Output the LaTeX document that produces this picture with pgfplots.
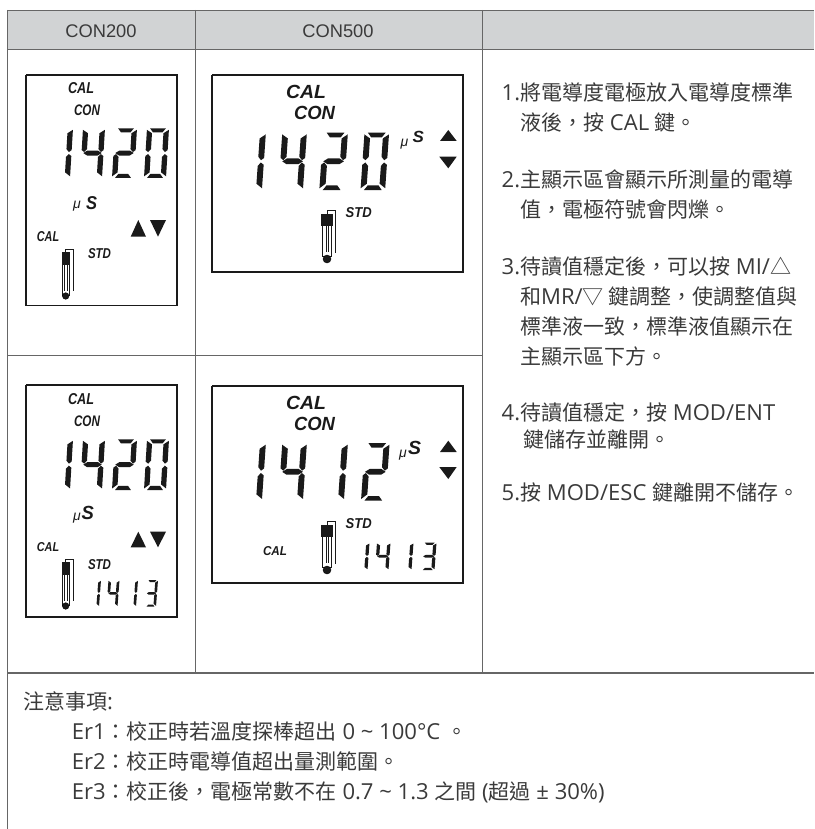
\documentclass[border=0pt]{standalone}
\usepackage{fontspec}
\usepackage{pgfplots}
\usepackage{pgfplotstable}
\pgfplotsset{compat=1.18}
\setmainfont[Script=CJK,Language=Chinese Traditional]{Noto Sans CJK TC}
\newfontfamily\arial{Liberation Sans}
\newfontfamily\ofont[Scale=1.05]{Open Sans}
\newcommand\lt[1]{{\ofont #1}}
\definecolor{ln}{HTML}{666666}
\definecolor{hd}{HTML}{D1D3D4}
\definecolor{tx}{HTML}{3A3A3A}
\definecolor{lcd}{HTML}{1A1A1A}
\pgfplotstableread{
x y
14 0
86 0
72 16
28 16
}\sA
\pgfplotstableread{
x y
100 6
100 88
88 96
76 84
76 20
}\sB
\pgfplotstableread{
x y
100 112
100 194
76 178
76 116
88 104
}\sC
\pgfplotstableread{
x y
28 184
72 184
86 200
14 200
}\sD
\pgfplotstableread{
x y
0 112
12 104
24 116
24 178
0 194
}\sE
\pgfplotstableread{
x y
0 6
24 20
24 84
12 96
0 88
}\sF
\pgfplotstableread{
x y
8 100
26 90
74 90
92 100
74 110
26 110
}\sG
% electrode parts
\pgfplotstableread{
x y
65.7 252
65.7 249.3
73 249.3
73 291
}\nWire
\pgfplotstableread{
x y
61.5 252
69.7 252
69.7 265
61.5 265
}\nCap
\pgfplotstableread{
x y
62.5 265
62.5 295
69 295
69 265
}\nTube
\pgfplotstableread{
x y
64.7 265
64.7 291
}\nInA
\pgfplotstableread{
x y
66.9 265
66.9 291
}\nInB
\pgfplotstableread{
x y
65.7 296
}\nBulb
\pgfplotstableread{
x y
327 214
327 210.7
335.3 210.7
335.3 253.3
}\wWire
\pgfplotstableread{
x y
321 214
332.7 214
332.7 225.7
321 225.7
}\wCap
\pgfplotstableread{
x y
322.8 225.7
322.8 256.7
331 256.7
331 225.7
}\wTube
\pgfplotstableread{
x y
326 225.7
326 252
}\wInA
\pgfplotstableread{
x y
328 225.7
328 252
}\wInB
\pgfplotstableread{
x y
327 259
}\wBulb
\newcommand\seg[1]{\addplot[fill=lcd,draw=none,mark=none,forget plot] table[x expr={\dx+\dw*\thisrow{x}/100+\ds*(1-\thisrow{y}/200)}, y expr={\dy+\dh*\thisrow{y}/200}] {#1};}
% digit value, left, top, unslanted width, height, slant
\newcommand\dig[6]{\def\dx{#2}\def\dy{#3}\def\dw{#4}\def\dh{#5}\def\ds{#6}%
\ifcase#1\relax
 \seg\sA\seg\sB\seg\sC\seg\sD\seg\sE\seg\sF
\or \seg\sB\seg\sC
\or \seg\sA\seg\sB\seg\sG\seg\sE\seg\sD
\or \seg\sA\seg\sB\seg\sG\seg\sC\seg\sD
\or \seg\sF\seg\sG\seg\sB\seg\sC
\fi}
% resized label: centre x, centre y, width, height, text
\newcommand\lab[5]{\node[text=lcd,inner sep=0pt,anchor=center] at (axis cs:#1,#2) {\resizebox{#3pt}{#4pt}{\arial\bfseries\itshape #5}};}
\newcommand\muu[2]{\node[text=lcd,inner sep=0pt,anchor=center] at (axis cs:#1,#2) {\fontsize{14}{14}\selectfont\arial\itshape μ};}
\newcommand\body[3]{\node[text=tx,inner sep=0pt,anchor=base west] at (axis cs:#1,#2) {\fontsize{21}{24}\selectfont #3};}
\newcommand\tri[1]{\addplot[fill=lcd,draw=none,forget plot] coordinates {#1};}
\newcommand\elecN[1]{%
\addplot[lcd,line width=.8pt,forget plot] table[y expr=\thisrow{y}+#1] {\nWire};
\addplot[fill=lcd,draw=none,forget plot] table[y expr=\thisrow{y}+#1] {\nCap};
\addplot[lcd,line width=1pt,forget plot] table[y expr=\thisrow{y}+#1] {\nTube};
\addplot[lcd,line width=.5pt,forget plot] table[y expr=\thisrow{y}+#1] {\nInA};
\addplot[lcd,line width=.5pt,forget plot] table[y expr=\thisrow{y}+#1] {\nInB};
\addplot[only marks,mark=*,mark size=3.3pt,mark options={fill=lcd,draw=none},forget plot] table[y expr=\thisrow{y}+#1] {\nBulb};}
\newcommand\elecW[1]{%
\addplot[lcd,line width=.8pt,forget plot] table[y expr=\thisrow{y}+#1] {\wWire};
\addplot[fill=lcd,draw=none,forget plot] table[y expr=\thisrow{y}+#1] {\wCap};
\addplot[lcd,line width=1pt,forget plot] table[y expr=\thisrow{y}+#1] {\wTube};
\addplot[lcd,line width=.5pt,forget plot] table[y expr=\thisrow{y}+#1] {\wInA};
\addplot[lcd,line width=.5pt,forget plot] table[y expr=\thisrow{y}+#1] {\wInB};
\addplot[only marks,mark=*,mark size=4pt,mark options={fill=lcd,draw=none},forget plot] table[y expr=\thisrow{y}+#1] {\wBulb};}
\begin{document}
\begin{tikzpicture}[x=1pt,y=1pt]
\useasboundingbox (0,0) rectangle (814pt,829pt);
\begin{axis}[at={(0,0)},anchor=south west,scale only axis,width=814pt,height=829pt,
  xmin=0,xmax=814,ymin=0,ymax=829,y dir=reverse,hide axis,clip=true]
% header band
\addplot[fill=hd,draw=none,forget plot] coordinates {(7,10)(814,10)(814,49)(7,49)};
% table rules
\addplot[ln,line width=1.3pt,forget plot] coordinates {(7,10.5)(814,10.5)};
\addplot[ln,line width=1.3pt,forget plot] coordinates {(7,49.5)(814,49.5)};
\addplot[ln,line width=1.3pt,forget plot] coordinates {(7,355.5)(482.5,355.5)};
\addplot[ln,line width=1.3pt,forget plot] coordinates {(7,673)(814,673)};
\addplot[ln,line width=1.3pt,forget plot] coordinates {(7.5,10)(7.5,829)};
\addplot[ln,line width=1.3pt,forget plot] coordinates {(195.5,10)(195.5,673)};
\addplot[ln,line width=1.3pt,forget plot] coordinates {(482.5,10)(482.5,673)};
\node[text=tx,inner sep=0pt] at (axis cs:101,31) {\fontsize{18.3}{18}\selectfont\arial CON200};
\node[text=tx,inner sep=0pt] at (axis cs:338,31) {\fontsize{18.3}{18}\selectfont\arial CON500};
% LCD frames
\addplot[lcd,line width=1.6pt,forget plot] coordinates {(26,75)(177,75)(177,305.5)(26,305.5)(26,75)};
\addplot[lcd,line width=1.6pt,forget plot] coordinates {(212,75)(463,75)(463,272)(212,272)(212,75)};
\addplot[lcd,line width=1.6pt,forget plot] coordinates {(26,385)(177,385)(177,617)(26,617)(26,385)};
\addplot[lcd,line width=1.6pt,forget plot] coordinates {(212,386)(463,386)(463,583)(212,583)(212,386)};
% Box 1
\lab{81}{88.5}{26}{11}{CAL}
\lab{87}{110.3}{26}{10.7}{CON}
\dig{1}{48}{128.3}{22}{49.5}{3}
\dig{4}{80}{128.3}{22}{49.5}{3}
\dig{2}{112}{128.3}{22}{49.5}{3}
\dig{0}{144}{128.3}{22}{49.5}{3}
\muu{77}{206}
\lab{91.5}{203.5}{11}{13}{S}
\tri{(130.7,236.7)(146,236.7)(138.3,220)}
\tri{(150,220)(166,220)(158,236.7)}
\lab{48}{236.7}{22.3}{10}{CAL}
\lab{99.5}{254}{23}{10}{STD}
\elecN{0}
% Box 2
\lab{306}{91.7}{40}{13.3}{CAL}
\lab{314.5}{112.7}{41}{13.3}{CON}
\dig{1}{237.3}{132.7}{24.6}{57.3}{4}
\dig{4}{278.3}{132.7}{24.6}{57.3}{4}
\dig{2}{319.3}{132.7}{24.6}{57.3}{4}
\dig{0}{360.5}{132.7}{24.6}{57.3}{4}
\muu{404.5}{144}
\lab{418.3}{136.5}{11.3}{11.3}{S}
\tri{(440,141)(456.7,141)(448.3,130)}
\tri{(439.3,156.7)(456.7,156.7)(448.3,168.3)}
\lab{358.7}{213}{26}{10}{STD}
\elecW{0}
% Box 3
\lab{81}{399.5}{26}{11}{CAL}
\lab{87}{421.5}{26}{10.7}{CON}
\dig{1}{48}{439.3}{22}{50.7}{3}
\dig{4}{80}{439.3}{22}{50.7}{3}
\dig{2}{112}{439.3}{22}{50.7}{3}
\dig{0}{144}{439.3}{22}{50.7}{3}
\muu{77}{518}
\lab{87.8}{513.3}{12.3}{13.3}{S}
\tri{(130.7,547.3)(146,547.3)(138.3,531.7)}
\tri{(150,531.7)(166,531.7)(158,547.3)}
\lab{48}{547}{22.3}{9}{CAL}
\lab{99.5}{565}{23}{10}{STD}
\elecN{310}
\dig{1}{88}{580}{11}{26.7}{2}
\dig{4}{106.5}{580}{11}{26.7}{2}
\dig{1}{125}{580}{11}{26.7}{2}
\dig{3}{145}{580}{11}{26.7}{2}
% Box 4
\lab{306}{402.5}{40}{13.3}{CAL}
\lab{314.5}{423.5}{41}{13.3}{CON}
\dig{1}{237.3}{443}{24.6}{57.7}{4}
\dig{4}{278.3}{443}{24.6}{57.7}{4}
\dig{1}{319.3}{443}{24.6}{57.7}{4}
\dig{2}{361}{443}{24.6}{57.7}{4}
\muu{403}{455}
\lab{414.5}{448.3}{13}{13.3}{S}
\tri{(440,452)(456.7,452)(448.3,440.7)}
\tri{(439.3,467)(456.7,467)(448.3,479)}
\lab{358.7}{524}{26}{10}{STD}
\lab{275}{551.2}{24}{9}{CAL}
\elecW{311}
\dig{1}{354}{542.7}{13.5}{27.3}{2}
\dig{4}{375}{542.7}{13.5}{27.3}{2}
\dig{1}{398}{542.7}{13.5}{27.3}{2}
\dig{3}{421}{542.7}{13.5}{27.3}{2}
% Instructions
\body{501.5}{100.5}{\lt{1.}將電導度電極放入電導度標準}
\body{520}{130.5}{液後，按\lt{ CAL }鍵。}
\body{501.5}{187}{\lt{2.}主顯示區會顯示所測量的電導}
\body{520}{217}{值，電極符號會閃爍。}
\body{501.5}{274}{\lt{3.}待讀值穩定後，可以按\lt{ MI/}△}
\body{520}{304}{和\lt{MR/}▽ 鍵調整，使調整值與}
\body{520}{334}{標準液一致，標準液值顯示在}
\body{520}{364}{主顯示區下方。}
\body{501.5}{420}{\lt{4.}待讀值穩定，按\lt{ MOD/ENT}}
\body{523}{447}{鍵儲存並離開。}
\body{501.5}{500}{\lt{5.}按\lt{ MOD/ESC }鍵離開不儲存。}
% Notes
\body{23}{709}{注意事項\lt{:}}
\body{71.7}{739}{\lt{Er1}：校正時若溫度探棒超出\lt{ 0 \textasciitilde{} 100°C }。}
\body{71.7}{769}{\lt{Er2}：校正時電導值超出量測範圍。}
\body{71.7}{799}{\lt{Er3}：校正後，電極常數不在\lt{ 0.7 \textasciitilde{} 1.3 }之間\lt{ (}超過\lt{ ± 30\%)}}
\end{axis}
\end{tikzpicture}
\end{document}
